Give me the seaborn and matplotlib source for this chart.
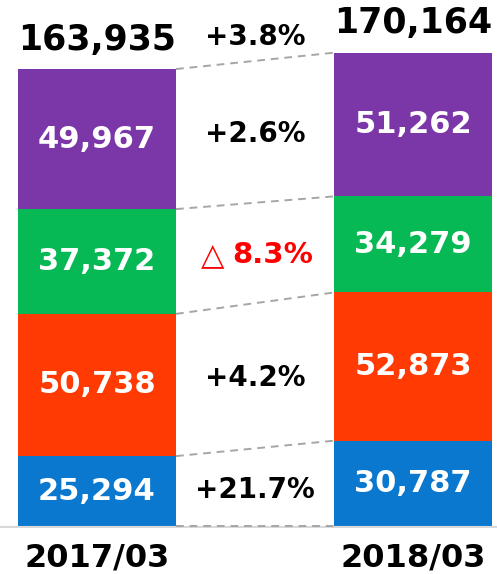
import numpy as np
import pandas as pd
import seaborn as sns
import matplotlib.pyplot as plt

# data (bottom segment first)
periods = ["2017/03", "2018/03"]
segment_names = ["blue", "orange", "green", "purple"]
values_2017 = [25294, 50738, 37372, 49967]
values_2018 = [30787, 52873, 34279, 51262]
totals = [163935, 170164]
change_labels = ["+21.7%", "+4.2%", "8.3%", "+2.6%"]
total_change = "+3.8%"
colors = ["#0A78CF", "#FF3A03", "#07B955", "#7B37A8"]

sns.set_style("white")
plt.rcParams['font.family'] = ['DejaVu Sans']

fig = plt.figure(figsize=(4.97, 5.74), dpi=100)
ax = fig.add_axes([0, 47 / 574, 1, 527 / 574])

vals = np.array([values_2017, values_2018])
cum = vals.cumsum(axis=1)

# stacked bars: draw the tallest cumulative first
for i in range(len(segment_names) - 1, -1, -1):
    df = pd.DataFrame({"period": periods, "value": cum[:, i]})
    sns.barplot(data=df, x="period", y="value", order=periods, color=colors[i],
                width=0.5, saturation=1, ax=ax, edgecolor="none")

# segment labels
for j in range(2):
    bottoms = np.concatenate([[0], cum[j, :-1]])
    for i in range(len(segment_names)):
        ax.text(j, bottoms[i] + vals[j, i] / 2, f"{vals[j, i]:,}", ha="center", va="center",
                color="white", fontsize=22, fontweight="bold")
    ax.annotate(f"{totals[j]:,}", (j, cum[j, -1]), xytext=(0, 9), textcoords="offset points",
                ha="center", va="bottom", fontsize=25, fontweight="bold", color="black")

# dashed connectors between bars
half = 0.25
for i in range(-1, len(segment_names)):
    y1 = 400 if i < 0 else cum[0, i]
    y2 = 400 if i < 0 else cum[1, i]
    ax.plot([0 + half, 1 - half], [y1, y2], ls=(0, (4, 3)), color="#A6A6A6", lw=1.4,
            zorder=5)

# change labels in the middle
for i in range(len(segment_names)):
    b1 = 0 if i == 0 else cum[0, i - 1]
    b2 = 0 if i == 0 else cum[1, i - 1]
    ymid = ((b1 + cum[0, i]) / 2 + (b2 + cum[1, i]) / 2) / 2 - 900
    if change_labels[i] == "8.3%":
        ax.text(0.367, ymid, "△", ha="center", va="center", color="#FF0000", fontsize=22)
        ax.text(0.557, ymid, change_labels[i], ha="center", va="center", color="#FF0000",
                fontsize=21, fontweight="bold")
    else:
        ax.text(0.5, ymid, change_labels[i], ha="center", va="center", color="black",
                fontsize=20, fontweight="bold")
ax.text(0.5, 174800, total_change, ha="center", va="center", color="black",
        fontsize=20, fontweight="bold")

ax.set_xlim(-97 / 316, 400 / 316)
ax.set_ylim(0, 188000)
ax.set_xlabel("")
ax.set_ylabel("")
ax.set_yticks([])
ax.tick_params(axis="x", length=0, pad=11, labelsize=23, labelcolor="black")
for lab in ax.get_xticklabels():
    lab.set_fontweight("bold")
for s in ["top", "right", "left"]:
    ax.spines[s].set_visible(False)
ax.spines["bottom"].set_color("#D9D9D9")
ax.spines["bottom"].set_linewidth(1.5)

fig.savefig("out.png", dpi=100)
